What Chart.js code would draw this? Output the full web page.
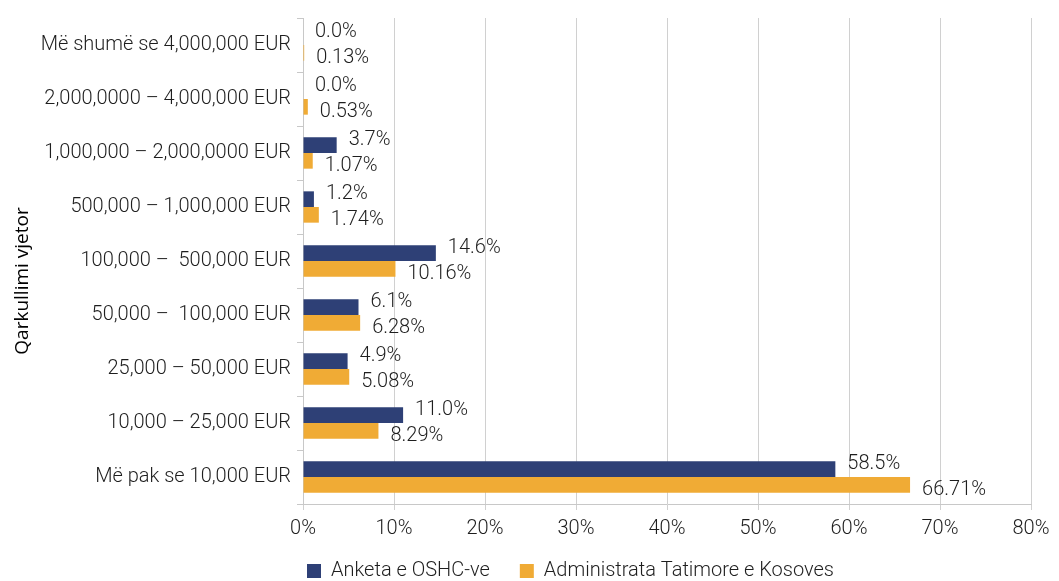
<!DOCTYPE html>
<html>
<head>
<meta charset="utf-8">
<script src="https://cdn.jsdelivr.net/npm/chart.js@4.4.1/dist/chart.umd.min.js"></script>
<style>
  html, body { margin: 0; padding: 0; background: #ffffff; }
  #wrap { width: 1059px; height: 581px; }
</style>
</head>
<body>
<div id="wrap"><canvas id="qarkullimiChart" width="1059" height="581"></canvas></div>
<script>
// Qarkullimi vjetor - krahasimi Anketa vs ATK
const kategorite = [
    'Më shumë se 4,000,000 EUR',
    '2,000,0000 – 4,000,000 EUR',
    '1,000,000 – 2,000,0000 EUR',
    '500,000 – 1,000,000 EUR',
    '100,000 –  500,000 EUR',
    '50,000 –  100,000 EUR',
    '25,000 – 50,000 EUR',
    '10,000 – 25,000 EUR',
    'Më pak se 10,000 EUR'
];
const anketa = [0.0, 0.0, 3.7, 1.2, 14.6, 6.1, 4.9, 11.0, 58.5];
const atk = [0.13, 0.53, 1.07, 1.74, 10.16, 6.28, 5.08, 8.29, 66.71];
const xTicks = [0, 10, 20, 30, 40, 50, 60, 70, 80];
const titulliY = 'Qarkullimi vjetor';

const FONT = 'Roboto, sans-serif';
const PESHA = 300;
const MADHESIA = 20;
const NGJYRA_TEKST = '#1e1e1e';
const BLU = '#2e4076';
const PORTOKALL = '#f0ab35';

// etiketat e vlerave djathtas shiritave
const etiketat = {
    id: 'etiketat',
    afterDatasetsDraw(chart) {
        const ctx = chart.ctx;
        ctx.save();
        ctx.font = PESHA + ' ' + MADHESIA + 'px ' + FONT;
        ctx.fillStyle = NGJYRA_TEKST;
        ctx.textBaseline = 'middle';
        ctx.textAlign = 'left';
        chart.data.datasets.forEach((ds, i) => {
            const meta = chart.getDatasetMeta(i);
            const dec = i === 0 ? 1 : 2;
            const dy = i === 0 ? -5 : 5;
            meta.data.forEach((bar, j) => {
                ctx.fillText(ds.data[j].toFixed(dec) + '%', bar.x + 12, bar.y + dy);
            });
        });
        ctx.restore();
    }
};

// titulli i boshtit vertikal, pak me poshte se qendra e zones
const titulliBoshtit = {
    id: 'titulliBoshtit',
    afterDraw(chart) {
        const ctx = chart.ctx;
        const area = chart.chartArea;
        ctx.save();
        ctx.translate(23, (area.top + area.bottom) / 2 + 20);
        ctx.rotate(-Math.PI / 2);
        ctx.font = '19px "Open Sans", "Liberation Sans", sans-serif';
        ctx.fillStyle = '#000000';
        ctx.textAlign = 'center';
        ctx.textBaseline = 'middle';
        ctx.fillText(titulliY, 0, 0);
        ctx.restore();
    }
};

// zhvendos legjenden pak lart dhe djathtas
const legjendaPozicion = {
    id: 'legjendaPozicion',
    afterLayout(chart) {
        const lg = chart.legend;
        if (!lg) return;
        lg.top -= 17;
        lg.bottom -= 17;
        lg.left += 55;
        lg.right += 55;
    }
};

const ctx = document.getElementById('qarkullimiChart').getContext('2d');
new Chart(ctx, {
    type: 'bar',
    data: {
        labels: kategorite,
        datasets: [
            { label: 'Anketa e OSHC-ve', data: anketa, backgroundColor: BLU },
            { label: 'Administrata Tatimore e Kosoves', data: atk, backgroundColor: PORTOKALL }
        ]
    },
    options: {
        indexAxis: 'y',
        responsive: false,
        animation: false,
        layout: { padding: { top: 14, right: 28, left: 0, bottom: -27 } },
        datasets: {
            bar: { barPercentage: 1.0, categoryPercentage: 0.58 }
        },
        plugins: {
            legend: {
                position: 'bottom',
                labels: {
                    color: NGJYRA_TEKST,
                    font: { family: FONT, size: MADHESIA, weight: PESHA },
                    boxWidth: 14,
                    boxHeight: 14,
                    padding: 30
                }
            },
            tooltip: { enabled: false }
        },
        scales: {
            x: {
                min: 0,
                max: 80,
                afterBuildTicks: (scale) => { scale.ticks = xTicks.map(v => ({ value: v })); },
                grid: { color: '#d0d0d0', tickLength: 6 },
                border: { color: '#c8c8c8' },
                ticks: {
                    color: NGJYRA_TEKST,
                    font: { family: FONT, size: MADHESIA, weight: PESHA },
                    padding: 7,
                    callback: (v) => v + '%'
                }
            },
            y: {
                afterFit: (scale) => { scale.width = 303; },
                grid: { drawOnChartArea: false, color: '#c8c8c8', tickLength: 6, offset: true },
                border: { color: '#c8c8c8' },
                ticks: {
                    color: NGJYRA_TEKST,
                    font: { family: FONT, size: MADHESIA, weight: PESHA },
                    padding: 6
                }
            }
        }
    },
    plugins: [etiketat, titulliBoshtit, legjendaPozicion]
});
</script>
</body>
</html>
